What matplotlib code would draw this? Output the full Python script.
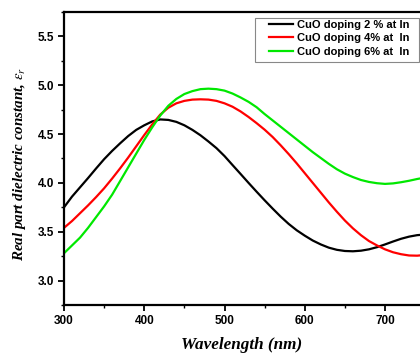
import matplotlib
matplotlib.use("Agg")
import matplotlib.pyplot as plt
from matplotlib.patches import Rectangle
from matplotlib.ticker import MultipleLocator

# Wavelength grid (nm) and real part of dielectric constant for each doping level
wavelength = [300, 310, 320, 330, 340, 350, 360, 370, 380, 390,
              400, 410, 420, 430, 440, 450, 460, 470, 480, 490,
              500, 510, 520, 530, 540, 550, 560, 570, 580, 590,
              600, 610, 620, 630, 640, 650, 660, 670, 680, 690,
              700, 710, 720, 730, 740, 750]
eps_2pct = [3.75, 3.86, 3.955, 4.05, 4.148, 4.243, 4.328, 4.406, 4.48, 4.543,
            4.59, 4.63, 4.65, 4.645, 4.625, 4.59, 4.543, 4.488, 4.424, 4.356,
            4.275, 4.183, 4.092, 4.0, 3.91, 3.822, 3.737, 3.655, 3.58, 3.515,
            3.46, 3.41, 3.37, 3.337, 3.315, 3.303, 3.30, 3.306, 3.32, 3.342,
            3.37, 3.40, 3.428, 3.45, 3.465, 3.472]
eps_4pct = [3.54, 3.61, 3.69, 3.77, 3.855, 3.945, 4.045, 4.15, 4.26, 4.375,
            4.49, 4.60, 4.70, 4.77, 4.815, 4.84, 4.853, 4.856, 4.853, 4.84,
            4.815, 4.78, 4.732, 4.675, 4.612, 4.545, 4.47, 4.385, 4.295, 4.20,
            4.10, 4.0, 3.90, 3.80, 3.705, 3.615, 3.535, 3.465, 3.405, 3.36,
            3.32, 3.29, 3.27, 3.257, 3.255, 3.262]
eps_6pct = [3.28, 3.36, 3.44, 3.54, 3.65, 3.76, 3.88, 4.02, 4.16, 4.30,
            4.44, 4.57, 4.69, 4.79, 4.86, 4.91, 4.94, 4.96, 4.965, 4.96,
            4.945, 4.915, 4.875, 4.83, 4.775, 4.705, 4.64, 4.575, 4.51, 4.445,
            4.38, 4.315, 4.255, 4.195, 4.14, 4.095, 4.06, 4.03, 4.01, 3.997,
            3.99, 3.995, 4.007, 4.022, 4.04, 4.055]

series_labels = ["CuO doping 2 % at In", "CuO doping 4% at  In", "CuO doping 6% at  In"]
series_colors = ["#000000", "#ff0000", "#00e800"]

x_ticks = [300, 400, 500, 600, 700]
y_ticks = [3.0, 3.5, 4.0, 4.5, 5.0, 5.5]

plt.rcParams["mathtext.fontset"] = "stix"

W, H = 420, 354
fig = plt.figure(figsize=(W / 100, H / 100), dpi=100)
ax = fig.add_axes([64 / W, 49 / H, 356 / W, 293 / H])

for y, lab, col in zip([eps_2pct, eps_4pct, eps_6pct], series_labels, series_colors):
    ax.plot(wavelength, y, color=col, lw=1.6, label=lab, solid_joinstyle="round")

ax.set_xlim(300, 743.6)
ax.set_ylim(2.75, 5.75)
ax.set_xticks(x_ticks)
ax.set_yticks(y_ticks)
ax.set_yticklabels([f"{v:.1f}" for v in y_ticks])
ax.xaxis.set_minor_locator(MultipleLocator(50))
ax.yaxis.set_minor_locator(MultipleLocator(0.25))

for s in ax.spines.values():
    s.set_linewidth(1.6)
ax.spines["right"].set_visible(False)

ax.tick_params(which="major", direction="out", length=4, width=1.3,
               labelsize=8.5, pad=3, right=False, top=False)
ax.tick_params(which="minor", direction="out", length=2.5, width=1.0)
for t in ax.get_xticklabels() + ax.get_yticklabels():
    t.set_fontfamily("Liberation Sans")
    t.set_fontweight("bold")

ax.set_xlabel("Wavelength (nm)", fontfamily="Liberation Serif", fontweight="bold",
              fontstyle="italic", fontsize=12.3, va="top")
ax.xaxis.set_label_coords(0.5, -0.108)
ax.set_ylabel(r"Real part dielectric constant, $\varepsilon_r$", fontfamily="Liberation Serif",
              fontweight="bold", fontstyle="italic", fontsize=10.8)
ax.yaxis.set_label_coords(-0.1, 0.481)

# Legend frame and entries
frame = Rectangle((255 / W, 1 - 62 / H), 164 / W, 44 / H, transform=fig.transFigure,
                  facecolor="white", edgecolor="#888888", lw=0.8, zorder=4, clip_on=False)
ax.add_patch(frame)
leg = ax.legend(loc="upper left", bbox_to_anchor=(269 / W, 1 - 20 / H),
                bbox_transform=fig.transFigure, frameon=False,
                handlelength=2.16, handletextpad=0.36,
                labelspacing=0.3, borderpad=0, borderaxespad=0,
                prop={"family": "Liberation Sans", "weight": "bold", "size": 8})
leg.set_zorder(5)

fig.savefig("out.png", dpi=100)
